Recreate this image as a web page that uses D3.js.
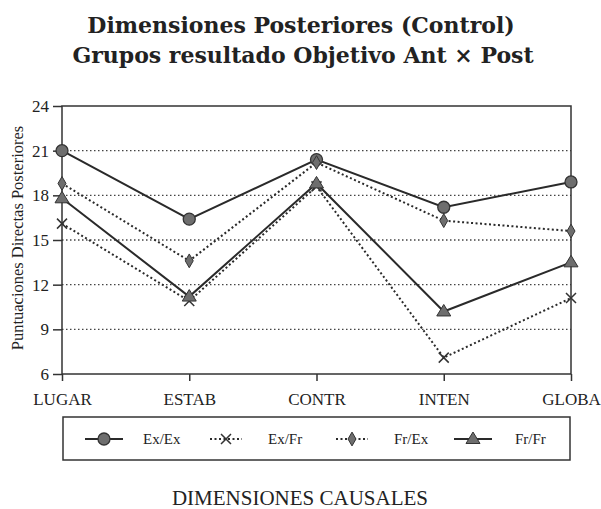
<!DOCTYPE html>
<html>
<head>
<meta charset="UTF-8">
<title>Dimensiones Posteriores (Control)</title>
<script src="https://d3js.org/d3.v7.min.js"></script>
<style>
  body { margin: 0; background: #fff; }
  svg text { font-family: "Liberation Serif", "Times New Roman", "DejaVu Serif", serif; fill: #222; }
</style>
</head>
<body>
<div class="canvas"></div>
<script>
  // data
  const categories = ["LUGAR", "ESTAB", "CONTR", "INTEN", "GLOBA"];
  const exEx = [21.0, 16.4, 20.4, 17.2, 18.9];
  const exFr = [16.1, 10.9, 18.6, 7.1, 11.1];
  const frEx = [18.8, 13.6, 20.2, 16.3, 15.6];
  const frFr = [17.8, 11.2, 18.8, 10.2, 13.5];
  const yTicks = [6, 9, 12, 15, 18, 21, 24];

  const series = [
    { name: "Ex/Ex", values: exEx, dash: null, marker: "circle" },
    { name: "Ex/Fr", values: exFr, dash: "2,2.5", marker: "cross" },
    { name: "Fr/Ex", values: frEx, dash: "2,2.5", marker: "diamond" },
    { name: "Fr/Fr", values: frFr, dash: null, marker: "triangle" }
  ];

  const width = 601, height = 509;
  const margin = { top: 106, right: 30, bottom: 135, left: 62 };
  const graphWidth = width - margin.left - margin.right;
  const graphHeight = height - margin.top - margin.bottom;
  const serif = "'Liberation Serif', 'Times New Roman', serif";
  const titleFont = "'DejaVu Serif', serif";

  const svg = d3.select(".canvas").append("svg")
    .attr("width", width)
    .attr("height", height);

  // titles
  svg.append("text").attr("x", 301).attr("y", 33)
    .attr("text-anchor", "middle").style("font-family", titleFont)
    .style("font-size", "22px").style("font-weight", "bold")
    .text("Dimensiones Posteriores (Control)");
  svg.append("text").attr("x", 303).attr("y", 63)
    .attr("text-anchor", "middle").style("font-family", titleFont)
    .style("font-size", "22px").style("font-weight", "bold")
    .text("Grupos resultado Objetivo Ant \u00d7 Post");

  const graph = svg.append("g")
    .attr("transform", `translate(${margin.left}, ${margin.top})`);

  const xScale = d3.scalePoint().domain(categories).range([0, graphWidth]);
  const yScale = d3.scaleLinear().domain([6, 24]).range([graphHeight, 0]);

  // dotted gridlines
  graph.append("g").selectAll("line")
    .data(yTicks.filter(d => d > 6 && d < 24))
    .join("line")
    .attr("x1", 0).attr("x2", graphWidth)
    .attr("y1", d => yScale(d)).attr("y2", d => yScale(d))
    .attr("stroke", "#444").attr("stroke-width", 1.3)
    .attr("stroke-dasharray", "1.5,2.5");

  // frame
  graph.append("rect")
    .attr("width", graphWidth).attr("height", graphHeight)
    .attr("fill", "none").attr("stroke", "#333").attr("stroke-width", 1.5);

  // axes
  const yAxis = d3.axisLeft(yScale).tickValues(yTicks).tickSize(9).tickPadding(4);
  const yAxisGroup = graph.append("g").call(yAxis);
  yAxisGroup.select(".domain").remove();
  yAxisGroup.selectAll("line").attr("stroke", "#333").attr("stroke-width", 1.5);
  yAxisGroup.selectAll("text").style("font-size", "17px")
    .style("font-family", serif).attr("fill", "#222");

  const xAxis = d3.axisBottom(xScale).tickSize(7).tickPadding(12);
  const xAxisGroup = graph.append("g")
    .attr("transform", `translate(0, ${graphHeight})`).call(xAxis);
  xAxisGroup.select(".domain").remove();
  xAxisGroup.selectAll("line").attr("stroke", "#333").attr("stroke-width", 1.5);
  xAxisGroup.selectAll("text").style("font-size", "17px")
    .style("font-family", serif).attr("fill", "#222");

  // axis titles
  svg.append("text")
    .attr("transform", `translate(23, 238) rotate(-90)`)
    .attr("text-anchor", "middle").style("font-size", "16.5px")
    .style("font-family", serif)
    .text("Puntuaciones Directas Posteriores");
  svg.append("text").attr("x", 300).attr("y", 505)
    .attr("text-anchor", "middle").style("font-size", "21px")
    .style("font-family", serif)
    .text("DIMENSIONES CAUSALES");

  // marker drawing
  function drawMarker(sel, type) {
    if (type === "circle") {
      sel.append("circle").attr("r", 6).attr("fill", "#6e6e6e")
        .attr("stroke", "#333").attr("stroke-width", 1.3);
    } else if (type === "diamond") {
      sel.append("path").attr("d", d3.symbol(d3.symbolDiamond, 55)())
        .attr("fill", "#6e6e6e").attr("stroke", "#333").attr("stroke-width", 1);
    } else if (type === "triangle") {
      sel.append("path").attr("d", "M0,-7L7,4.5L-7,4.5Z")
        .attr("fill", "#6e6e6e").attr("stroke", "#333").attr("stroke-width", 1);
    } else {
      sel.append("path").attr("d", "M-5,-5L5,5M-5,5L5,-5")
        .attr("stroke", "#333").attr("stroke-width", 1.5).attr("fill", "none");
    }
  }

  const line = d3.line()
    .x((d, i) => xScale(categories[i]))
    .y(d => yScale(d));

  series.forEach(s => {
    graph.append("path")
      .datum(s.values)
      .attr("d", line)
      .attr("fill", "none")
      .attr("stroke", "#2a2a2a")
      .attr("stroke-width", 2)
      .attr("stroke-dasharray", s.dash);
  });

  series.forEach(s => {
    graph.append("g").selectAll("g")
      .data(s.values)
      .join("g")
      .attr("transform", (d, i) => `translate(${xScale(categories[i])}, ${yScale(d)})`)
      .each(function () { drawMarker(d3.select(this), s.marker); });
  });

  // legend
  const legend = svg.append("g");
  legend.append("rect")
    .attr("x", 63).attr("y", 417).attr("width", 507).attr("height", 43)
    .attr("fill", "none").attr("stroke", "#333").attr("stroke-width", 1.5);

  const legendX = [104, 226, 352, 473];
  series.forEach((s, i) => {
    const item = legend.append("g").attr("transform", `translate(${legendX[i]}, 439)`);
    const half = s.dash ? 16 : 19;
    item.append("line").attr("x1", -half).attr("x2", half)
      .attr("stroke", "#2a2a2a").attr("stroke-width", 2)
      .attr("stroke-dasharray", s.dash);
    drawMarker(item, s.marker);
    item.append("text").attr("x", i === 0 ? 39 : 42).attr("y", 5)
      .style("font-size", "15px").style("font-family", serif).text(s.name);
  });
</script>
</body>
</html>
